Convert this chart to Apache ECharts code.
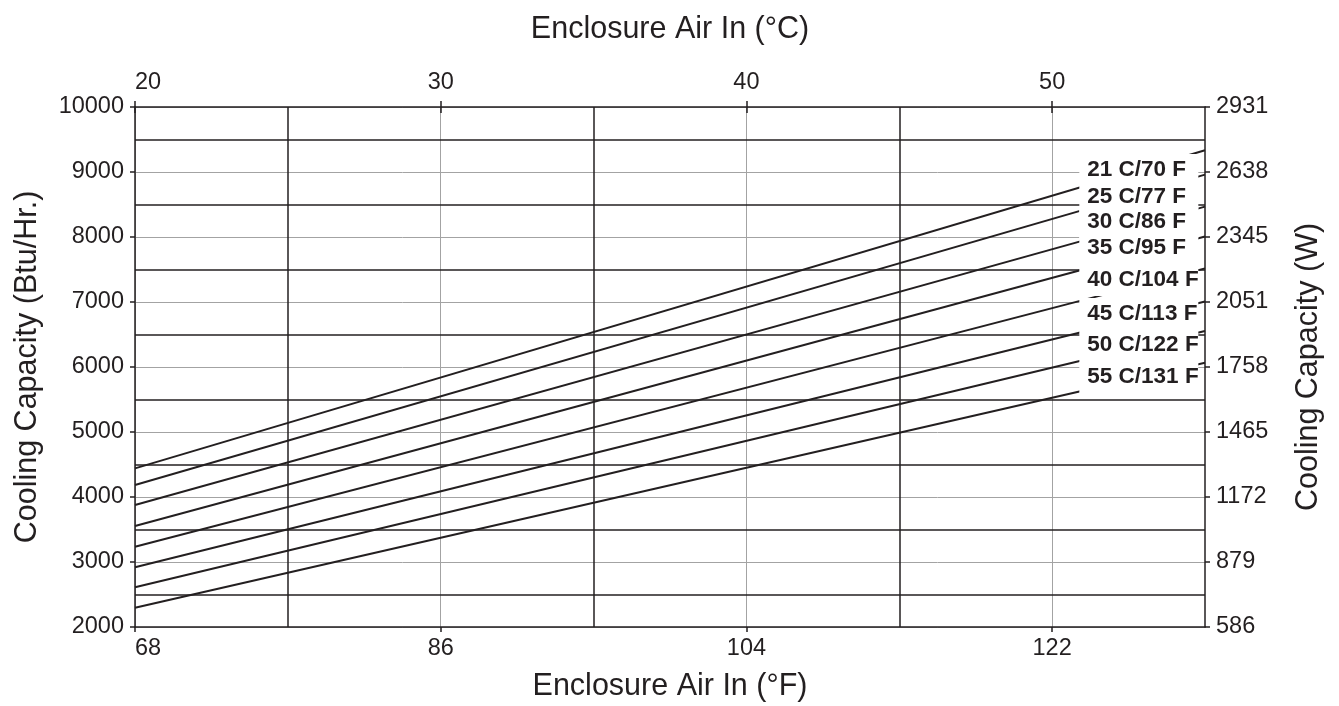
<!DOCTYPE html>
<html>
<head>
<meta charset="utf-8">
<script src="https://cdn.jsdelivr.net/npm/echarts@6/dist/echarts.min.js"></script>
<style>
html,body{margin:0;padding:0;background:#fff;}
#chart{width:1339px;height:706px;}
</style>
</head>
<body>
<div id="chart"></div>
<script>
// ---- data ----
const fahrenheitTicks = [68, 86, 104, 122];
const celsiusTicks = [20, 30, 40, 50];
const btuTicks = [2000, 3000, 4000, 5000, 6000, 7000, 8000, 9000, 10000];
const wattLabels = ['586', '879', '1172', '1465', '1758', '2051', '2345', '2638', '2931'];
const seriesNames = ['21 C/70 F', '25 C/77 F', '30 C/86 F', '35 C/95 F', '40 C/104 F', '45 C/113 F', '50 C/122 F', '55 C/131 F'];
const airInF = [68, 131];
const startBtu = [4441, 4185, 3877, 3554, 3235, 2918, 2611, 2297];
const endBtu = [9334, 8960, 8467, 8009, 7517, 7007, 6553, 6065];
const darkGridF = [77, 95, 113];
const darkGridBtu = [2500, 3500, 4500, 5500, 6500, 7500, 8500, 9500];
const labelAnchorF = 123.6;
const labelAnchorBtu = [9031, 8615, 8231, 7831, 7338, 6815, 6338, 5846];

// ---- style ----
const DARK = '#231f20';
const GRAY = '#a3a3a3';
const FONT = '"Liberation Sans", Arial, Helvetica, sans-serif';

const chart = echarts.init(document.getElementById('chart'), null, {renderer: 'canvas'});

const lineSeries = seriesNames.map((name, i) => ({
  type: 'line',
  name: name,
  xAxisIndex: 0,
  yAxisIndex: 0,
  data: [[airInF[0], startBtu[i]], [airInF[1], endBtu[i]]],
  symbol: 'none',
  showSymbol: false,
  silent: true,
  z: 3,
  lineStyle: {color: DARK, width: 2}
}));

const gridSeries = {
  type: 'line',
  xAxisIndex: 0,
  yAxisIndex: 0,
  data: [[68, 2000]],
  symbol: 'none',
  showSymbol: false,
  lineStyle: {width: 0},
  silent: true,
  z: 1,
  markLine: {
    silent: true,
    symbol: 'none',
    z: 1,
    animation: false,
    label: {show: false},
    lineStyle: {color: DARK, width: 1.5, type: 'solid'},
    emphasis: {disabled: true},
    data: darkGridF.map(v => ({xAxis: v})).concat(darkGridBtu.map(v => ({yAxis: v})))
  }
};

const labelSeries = {
  type: 'scatter',
  xAxisIndex: 0,
  yAxisIndex: 0,
  symbolSize: 0,
  silent: true,
  z: 10,
  itemStyle: {opacity: 1, color: '#ffffff'},
  data: seriesNames.map((n, i) => ({name: n, value: [labelAnchorF, labelAnchorBtu[i]]})),
  label: {
    show: true,
    position: 'right',
    distance: 0,
    formatter: '{b}',
    opacity: 1,
    backgroundColor: '#ffffff',
    padding: [5, 3, 5, 8],
    width: 108,
    lineHeight: 22,
    fontSize: 22.5,
    fontWeight: 'bold',
    fontFamily: FONT,
    color: DARK
  }
};

const tickLabelStyle = {fontSize: 23.5, color: DARK, fontFamily: FONT};
const nameStyle = {fontSize: 30.5, color: DARK, fontFamily: FONT};

const option = {
  animation: false,
  backgroundColor: '#ffffff',
  grid: {left: 135, right: 134, top: 107, bottom: 79, containLabel: false, outerBoundsMode: 'none'},
  xAxis: [
    {
      type: 'value', position: 'bottom', min: 68, max: 131, interval: 18,
      axisLine: {show: true, onZero: false, lineStyle: {color: DARK, width: 1.5}},
      axisTick: {show: true, length: 5, lineStyle: {color: DARK, width: 1.5}, customValues: fahrenheitTicks},
      axisLabel: Object.assign({margin: 10, customValues: fahrenheitTicks, alignMinLabel: 'left', formatter: v => String(v)}, tickLabelStyle),
      splitLine: {show: true, lineStyle: {color: GRAY, width: 1}},
      name: 'Enclosure Air In (°F)', nameLocation: 'middle', nameGap: 44, nameTextStyle: nameStyle
    },
    {
      type: 'value', position: 'top', min: 20, max: 55, interval: 10,
      axisLine: {show: true, onZero: false, lineStyle: {color: DARK, width: 1.5}},
      axisTick: {show: true, length: 6, lineStyle: {color: DARK, width: 1.5}, customValues: celsiusTicks},
      axisLabel: Object.assign({margin: 12, customValues: celsiusTicks, alignMinLabel: 'left', formatter: v => String(v)}, tickLabelStyle),
      splitLine: {show: false},
      name: 'Enclosure Air In (°C)', nameLocation: 'middle', nameGap: 62, nameTextStyle: nameStyle
    },
    {
      type: 'value', position: 'top', min: 20, max: 55, interval: 10,
      axisLine: {show: false},
      axisTick: {show: true, inside: true, length: 6, lineStyle: {color: DARK, width: 1.5}, customValues: celsiusTicks},
      axisLabel: {show: false},
      splitLine: {show: false}
    }
  ],
  yAxis: [
    {
      type: 'value', position: 'left', min: 2000, max: 10000, interval: 1000,
      axisLine: {show: true, onZero: false, lineStyle: {color: DARK, width: 1.5}},
      axisTick: {show: true, length: 5, lineStyle: {color: DARK, width: 1.5}},
      axisLabel: Object.assign({margin: 11, formatter: v => String(v)}, tickLabelStyle),
      splitLine: {show: true, lineStyle: {color: GRAY, width: 1}},
      name: 'Cooling Capacity (Btu/Hr.)', nameLocation: 'middle', nameRotate: 90, nameGap: 92, nameTextStyle: nameStyle
    },
    {
      type: 'value', position: 'right', min: 2000, max: 10000, interval: 1000,
      axisLine: {show: true, onZero: false, lineStyle: {color: DARK, width: 1.5}},
      axisTick: {show: true, length: 5, lineStyle: {color: DARK, width: 1.5}},
      axisLabel: Object.assign({margin: 11, formatter: v => wattLabels[btuTicks.indexOf(v)]}, tickLabelStyle),
      splitLine: {show: false},
      name: 'Cooling Capacity (W)', nameLocation: 'middle', nameRotate: 90, nameGap: 88, nameTextStyle: nameStyle
    }
  ],
  series: [gridSeries].concat(lineSeries, [labelSeries])
};

chart.setOption(option);
</script>
</body>
</html>
